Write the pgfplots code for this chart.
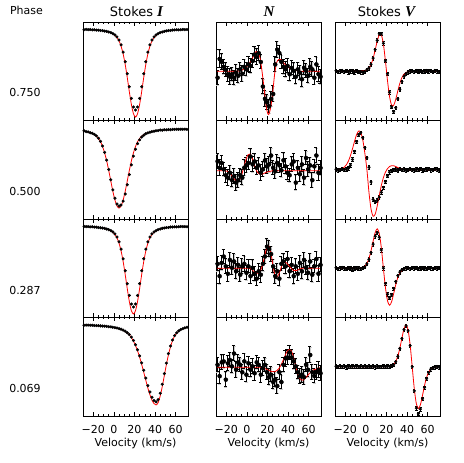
\documentclass[border=0pt]{standalone}
\usepackage{fontspec}
\setmainfont{DejaVu Sans}
\newfontfamily\titlefont{Liberation Serif}
\usepackage{pgfplots}
\usepackage{pgfplotstable}
\pgfplotsset{compat=1.18}

% ---------------- Stokes I ----------------
\pgfplotstableread{
v m d
-29 0.924 0.921
-27 0.923 0.925
-25 0.923 0.922
-23 0.922 0.923
-21 0.921 0.920
-19 0.920 0.921
-17 0.919 0.918
-15 0.917 0.917
-13 0.915 0.913
-11 0.912 0.912
-9 0.908 0.908
-7 0.903 0.905
-5 0.897 0.898
-3 0.889 0.892
-1 0.879 0.882
1 0.865 0.869
3 0.842 0.849
5 0.808 0.817
7 0.754 0.768
9 0.675 0.694
11 0.568 0.596
13 0.436 0.475
15 0.293 0.343
17 0.163 0.224
19 0.069 0.137
21 0.036 0.107
23 0.069 0.137
25 0.163 0.224
27 0.293 0.343
29 0.436 0.475
31 0.568 0.596
33 0.675 0.694
35 0.754 0.768
37 0.808 0.817
39 0.842 0.849
41 0.865 0.869
43 0.879 0.882
45 0.889 0.892
47 0.897 0.898
49 0.903 0.905
51 0.908 0.909
53 0.912 0.913
55 0.915 0.914
57 0.917 0.918
59 0.919 0.919
61 0.920 0.921
63 0.921 0.920
65 0.922 0.922
67 0.923 0.924
69 0.923 0.922
71 0.924 0.923
}\Ione

\pgfplotstableread{
v m d
-29 0.893 0.895
-27 0.889 0.887
-25 0.883 0.884
-23 0.877 0.876
-21 0.869 0.870
-19 0.857 0.859
-17 0.841 0.843
-15 0.818 0.820
-13 0.785 0.788
-11 0.736 0.741
-9 0.671 0.677
-7 0.590 0.598
-5 0.492 0.502
-3 0.386 0.399
-1 0.281 0.296
1 0.193 0.211
3 0.133 0.153
5 0.111 0.131
7 0.133 0.142
9 0.193 0.182
11 0.281 0.254
13 0.386 0.348
15 0.492 0.451
17 0.590 0.550
19 0.671 0.638
21 0.736 0.709
23 0.785 0.765
25 0.818 0.804
27 0.841 0.832
29 0.857 0.851
31 0.869 0.865
33 0.877 0.874
35 0.883 0.881
37 0.889 0.887
39 0.893 0.891
41 0.897 0.896
43 0.899 0.898
45 0.902 0.903
47 0.903 0.902
49 0.905 0.906
51 0.906 0.905
53 0.907 0.908
55 0.908 0.907
57 0.909 0.910
59 0.909 0.909
61 0.910 0.911
63 0.910 0.910
65 0.911 0.912
67 0.911 0.911
69 0.911 0.912
71 0.911 0.910
}\Itwo

\pgfplotstableread{
v m d
-29 0.923 0.925
-27 0.923 0.922
-25 0.922 0.923
-23 0.921 0.920
-21 0.920 0.921
-19 0.919 0.918
-17 0.917 0.917
-15 0.915 0.913
-13 0.912 0.912
-11 0.908 0.908
-9 0.903 0.905
-7 0.897 0.898
-5 0.889 0.892
-3 0.879 0.882
-1 0.865 0.869
1 0.842 0.849
3 0.808 0.817
5 0.754 0.768
7 0.675 0.694
9 0.568 0.596
11 0.436 0.475
13 0.293 0.343
15 0.163 0.224
17 0.069 0.137
19 0.036 0.107
21 0.069 0.137
23 0.163 0.224
25 0.293 0.343
27 0.436 0.475
29 0.568 0.596
31 0.675 0.694
33 0.754 0.768
35 0.808 0.817
37 0.842 0.849
39 0.865 0.869
41 0.879 0.882
43 0.889 0.892
45 0.897 0.898
47 0.903 0.905
49 0.908 0.909
51 0.912 0.913
53 0.915 0.914
55 0.917 0.918
57 0.919 0.919
59 0.920 0.921
61 0.921 0.920
63 0.922 0.922
65 0.923 0.924
67 0.923 0.922
69 0.924 0.923
71 0.924 0.921
}\Ithree

\pgfplotstableread{
v m d
-29 0.924 0.922
-27 0.923 0.923
-25 0.923 0.923
-23 0.922 0.922
-21 0.921 0.921
-19 0.919 0.919
-17 0.918 0.918
-15 0.917 0.917
-13 0.915 0.915
-11 0.913 0.913
-9 0.911 0.912
-7 0.909 0.910
-5 0.906 0.907
-3 0.904 0.905
-1 0.900 0.901
1 0.896 0.897
3 0.892 0.893
5 0.885 0.887
7 0.879 0.881
9 0.870 0.872
11 0.858 0.861
13 0.843 0.846
15 0.823 0.827
17 0.796 0.801
19 0.761 0.767
21 0.716 0.724
23 0.662 0.672
25 0.598 0.611
27 0.524 0.540
29 0.445 0.464
31 0.363 0.385
33 0.284 0.309
35 0.216 0.244
37 0.161 0.191
39 0.126 0.157
41 0.112 0.144
43 0.136 0.167
45 0.203 0.231
47 0.298 0.322
49 0.410 0.430
51 0.521 0.537
53 0.621 0.633
55 0.702 0.711
57 0.766 0.772
59 0.813 0.817
61 0.841 0.844
63 0.862 0.864
65 0.876 0.878
67 0.886 0.887
69 0.894 0.895
71 0.900 0.901
}\Ifour

% ---------------- N ----------------
\pgfplotstableread{
v m d e
-29 0.00 -0.12 0.15
-27 0.00 0.26 0.18
-25 0.00 0.20 0.16
-23 0.00 0.10 0.15
-21 0.00 0.04 0.14
-19 0.00 -0.05 0.15
-17 0.00 -0.10 0.16
-15 0.00 -0.05 0.14
-13 0.00 -0.12 0.15
-11 0.00 -0.02 0.16
-9 0.00 -0.08 0.15
-7 0.01 0.05 0.14
-5 0.02 -0.04 0.16
-3 0.04 0.10 0.15
-1 0.07 0.05 0.14
1 0.12 0.15 0.16
3 0.18 0.12 0.15
5 0.24 0.22 0.14
7 0.34 0.35 0.15
9 0.40 0.30 0.16
11 0.38 0.38 0.15
13 0.25 0.20 0.14
15 -0.05 -0.30 0.15
17 -0.40 -0.55 0.16
19 -0.75 -0.62 0.15
21 -0.88 -0.70 0.14
23 -0.75 -0.55 0.15
25 -0.45 -0.45 0.16
27 -0.05 0.15 0.15
29 0.18 0.45 0.16
31 0.24 0.38 0.15
33 0.24 0.20 0.14
35 0.19 0.10 0.15
37 0.14 0.05 0.16
39 0.10 0.12 0.15
41 0.07 -0.05 0.14
43 0.05 0.08 0.15
45 0.03 0.02 0.16
47 0.02 -0.10 0.15
49 0.01 0.05 0.14
51 0.00 -0.02 0.15
53 0.00 -0.15 0.16
55 0.00 0.08 0.15
57 0.00 0.02 0.14
59 0.00 -0.08 0.15
61 0.00 0.10 0.16
63 0.00 0.05 0.15
65 0.00 -0.12 0.14
67 0.00 0.15 0.15
69 0.00 -0.05 0.16
71 0.00 -0.10 0.15
}\None

\pgfplotstableread{
v m d e
-29 -0.02 0.18 0.15
-27 -0.02 0.05 0.16
-25 -0.02 0.15 0.15
-23 -0.02 0.02 0.14
-21 -0.02 -0.10 0.15
-19 -0.03 -0.15 0.16
-17 -0.06 -0.05 0.15
-15 -0.11 -0.20 0.14
-13 -0.17 -0.12 0.15
-11 -0.22 -0.25 0.16
-9 -0.24 -0.20 0.15
-7 -0.20 -0.10 0.14
-5 -0.10 -0.15 0.15
-3 0.05 0.05 0.16
-1 0.20 0.10 0.15
1 0.30 0.15 0.14
3 0.32 0.28 0.15
5 0.25 0.12 0.16
7 0.12 0.18 0.15
9 0.00 0.05 0.14
11 -0.07 0.10 0.15
13 -0.09 -0.05 0.16
15 -0.09 0.02 0.15
17 -0.07 0.20 0.14
19 -0.05 0.08 0.15
21 -0.04 0.12 0.16
23 -0.03 0.30 0.15
25 -0.02 0.05 0.14
27 -0.02 -0.02 0.15
29 -0.02 0.15 0.16
31 -0.02 0.10 0.15
33 -0.02 0.00 0.14
35 -0.02 0.20 0.15
37 -0.02 0.08 0.16
39 -0.02 -0.05 0.15
41 -0.02 -0.10 0.14
43 -0.02 0.12 0.15
45 -0.02 0.18 0.16
47 -0.02 -0.25 0.15
49 -0.02 0.05 0.14
51 -0.02 -0.08 0.15
53 -0.02 0.12 0.16
55 -0.02 -0.15 0.15
57 -0.02 0.25 0.14
59 -0.02 0.02 0.15
61 -0.02 0.10 0.16
63 -0.02 -0.20 0.15
65 -0.02 0.08 0.14
67 -0.02 0.30 0.15
69 -0.02 -0.05 0.16
71 -0.02 0.05 0.15
}\Ntwo

\pgfplotstableread{
v m d e
-29 0.00 0.10 0.15
-27 0.00 -0.15 0.16
-25 0.00 0.12 0.15
-23 0.00 0.25 0.14
-21 0.00 0.05 0.15
-19 0.00 -0.10 0.16
-17 0.00 0.18 0.15
-15 0.00 0.02 0.14
-13 0.00 0.15 0.15
-11 0.00 -0.05 0.16
-9 0.00 0.08 0.15
-7 0.00 -0.12 0.14
-5 0.00 0.05 0.15
-3 0.00 0.10 0.16
-1 0.00 -0.08 0.15
1 0.00 0.05 0.14
3 0.00 -0.15 0.15
5 -0.03 0.02 0.16
7 -0.07 -0.10 0.15
9 -0.10 -0.20 0.14
11 -0.10 -0.05 0.15
13 -0.06 -0.12 0.16
15 0.05 0.10 0.15
17 0.22 0.25 0.14
19 0.40 0.45 0.15
21 0.46 0.40 0.16
23 0.35 0.30 0.15
25 0.10 0.05 0.14
27 -0.12 -0.15 0.15
29 -0.18 -0.05 0.16
31 -0.12 -0.20 0.15
33 0.00 0.10 0.14
35 0.10 0.15 0.15
37 0.13 0.05 0.16
39 0.10 0.20 0.15
41 0.05 -0.05 0.14
43 0.00 0.08 0.15
45 -0.04 -0.15 0.16
47 -0.05 0.05 0.15
49 -0.04 -0.10 0.14
51 -0.02 0.12 0.15
53 0.00 -0.05 0.16
55 0.00 0.18 0.15
57 0.00 0.02 0.14
59 0.00 -0.08 0.15
61 0.00 0.15 0.16
63 0.00 -0.12 0.15
65 0.00 0.05 0.14
67 0.00 0.20 0.15
69 0.00 -0.10 0.16
71 0.00 0.08 0.15
}\Nthree

\pgfplotstableread{
v m d e
-29 -0.01 0.05 0.15
-27 -0.01 -0.18 0.16
-25 -0.01 0.10 0.15
-23 -0.01 0.12 0.14
-21 -0.01 -0.25 0.15
-19 -0.01 0.08 0.16
-17 -0.01 0.15 0.15
-15 -0.01 0.02 0.14
-13 -0.01 0.28 0.15
-11 -0.01 -0.05 0.16
-9 -0.01 0.10 0.15
-7 -0.01 0.05 0.14
-5 -0.01 -0.10 0.15
-3 -0.01 0.12 0.16
-1 -0.01 -0.15 0.15
1 -0.01 0.08 0.14
3 -0.01 -0.05 0.15
5 -0.01 0.02 0.16
7 -0.01 -0.12 0.15
9 -0.01 0.10 0.14
11 -0.01 0.05 0.15
13 -0.01 -0.15 0.16
15 -0.02 -0.02 0.15
17 -0.03 0.05 0.14
19 -0.05 -0.10 0.15
21 -0.07 -0.20 0.16
23 -0.09 -0.15 0.15
25 -0.10 -0.30 0.14
27 -0.10 -0.25 0.15
29 -0.08 -0.38 0.16
31 -0.04 -0.10 0.15
33 0.03 -0.30 0.14
35 0.12 0.05 0.15
37 0.22 0.18 0.16
39 0.31 0.20 0.15
41 0.35 0.30 0.14
43 0.33 0.20 0.15
45 0.22 0.12 0.16
47 0.05 0.02 0.15
49 -0.12 -0.10 0.14
51 -0.23 -0.18 0.15
53 -0.27 -0.15 0.16
55 -0.27 -0.20 0.15
57 -0.23 0.05 0.14
59 -0.18 -0.05 0.15
61 -0.13 0.25 0.16
63 -0.09 -0.10 0.15
65 -0.06 -0.18 0.14
67 -0.05 -0.10 0.15
69 -0.03 -0.05 0.16
71 -0.02 -0.12 0.15
}\Nfour

% ---------------- Stokes V ----------------
\pgfplotstableread{
v m d
-29 0.000 0.010
-27 0.000 -0.010
-25 0.000 0.000
-23 0.000 0.015
-21 0.000 -0.005
-19 0.000 0.010
-17 0.000 -0.015
-15 0.000 0.005
-13 0.000 0.000
-11 0.000 -0.020
-9 0.000 0.010
-7 0.000 -0.010
-5 0.001 -0.015
-3 0.003 -0.020
-1 0.010 -0.005
1 0.026 0.030
3 0.064 0.066
5 0.138 0.141
7 0.260 0.267
9 0.428 0.439
11 0.610 0.626
13 0.740 0.760
15 0.738 0.757
17 0.553 0.568
19 0.206 0.211
21 -0.192 -0.050
23 -0.517 -0.426
25 -0.689 -0.722
27 -0.692 -0.820
29 -0.570 -0.741
31 -0.400 -0.562
33 -0.243 -0.366
35 -0.129 -0.207
37 -0.060 -0.103
39 -0.025 -0.045
41 -0.009 -0.017
43 -0.003 0.005
45 0.000 0.010
47 0.000 -0.005
49 0.000 0.015
51 0.000 0.000
53 0.000 0.010
55 0.000 -0.010
57 0.000 0.005
59 0.000 0.015
61 0.000 0.000
63 0.000 0.010
65 0.000 -0.010
67 0.000 0.015
69 0.000 0.005
71 0.000 -0.010
}\Vone

\pgfplotstableread{
v m d
-29 0.000 0.010
-27 0.005 -0.010
-25 0.011 0.000
-23 0.025 0.020
-21 0.052 0.000
-19 0.100 0.010
-17 0.175 0.030
-15 0.285 0.090
-13 0.426 0.210
-11 0.579 0.370
-9 0.714 0.570
-7 0.787 0.710
-5 0.757 0.750
-3 0.603 0.650
-1 0.335 0.450
1 0.000 0.240
3 -0.460 0.050
5 -0.798 -0.250
7 -0.944 -0.600
9 -0.903 -0.650
11 -0.738 -0.620
13 -0.526 -0.560
15 -0.320 -0.460
17 -0.161 -0.360
19 -0.050 -0.240
21 0.023 -0.120
23 0.066 -0.050
25 0.083 -0.020
27 0.081 0.000
29 0.065 0.010
31 0.044 -0.010
33 0.025 0.020
35 0.012 0.000
37 0.005 0.010
39 0.000 -0.010
41 0.000 0.000
43 0.000 0.020
45 0.000 0.000
47 0.000 -0.010
49 0.000 0.010
51 0.000 0.000
53 0.000 0.020
55 0.000 -0.010
57 0.000 0.000
59 0.000 0.010
61 0.000 0.020
63 0.000 -0.010
65 0.000 0.000
67 0.000 0.020
69 0.000 0.010
71 0.000 -0.010
}\Vtwo

\pgfplotstableread{
v m d
-29 0.000 0.010
-27 0.000 -0.010
-25 0.000 0.005
-23 0.000 0.015
-21 0.000 0.000
-19 0.000 -0.010
-17 0.000 0.010
-15 0.000 0.000
-13 0.000 -0.015
-11 0.000 0.005
-9 0.000 0.010
-7 0.002 0.000
-5 0.006 -0.010
-3 0.017 0.010
-1 0.044 0.030
1 0.101 0.090
3 0.202 0.180
5 0.357 0.320
7 0.548 0.490
9 0.723 0.650
11 0.800 0.720
13 0.704 0.630
15 0.416 0.370
17 0.000 0.000
19 -0.390 -0.310
21 -0.660 -0.530
23 -0.750 -0.600
25 -0.678 -0.540
27 -0.514 -0.410
29 -0.335 -0.270
31 -0.190 -0.150
33 -0.095 -0.080
35 -0.041 -0.030
37 -0.016 -0.010
39 -0.005 0.005
41 -0.002 0.010
43 0.000 -0.005
45 0.000 0.010
47 0.000 0.000
49 0.000 0.015
51 0.000 -0.010
53 0.000 0.005
55 0.000 0.010
57 0.000 0.000
59 0.000 -0.010
61 0.000 0.010
63 0.000 0.005
65 0.000 -0.005
67 0.000 0.010
69 0.000 0.000
71 0.000 0.010
}\Vthree

\pgfplotstableread{
v m d
-29 0.000 0.010
-27 0.000 0.000
-25 0.000 0.015
-23 0.000 0.005
-21 0.000 0.010
-19 0.000 -0.005
-17 0.000 0.010
-15 0.000 0.000
-13 0.000 0.015
-11 0.000 0.005
-9 0.000 0.010
-7 0.000 0.000
-5 0.000 0.010
-3 0.000 0.005
-1 0.000 0.015
1 0.000 0.000
3 0.000 0.010
5 0.000 0.005
7 0.000 0.010
9 0.000 -0.005
11 0.000 0.010
13 0.000 0.000
15 0.000 0.005
17 0.000 0.010
19 0.000 0.000
21 0.002 0.010
23 0.006 0.005
25 0.018 0.020
27 0.047 0.040
29 0.107 0.100
31 0.215 0.210
33 0.379 0.370
35 0.582 0.570
37 0.768 0.750
39 0.850 0.830
41 0.748 0.730
43 0.442 0.430
45 0.000 0.000
47 -0.442 -0.490
49 -0.748 -0.840
51 -0.850 -0.950
53 -0.768 -0.860
55 -0.582 -0.650
57 -0.379 -0.420
59 -0.215 -0.240
61 -0.107 -0.120
63 -0.047 -0.050
65 -0.018 -0.020
67 -0.006 -0.005
69 -0.002 0.005
71 0.000 -0.005
}\Vfour

\pgfplotsset{
  panel/.style={
    scale only axis, width=105pt, height=98.5pt, anchor=north west,
    xmin=-30, xmax=72, xtick={-20,0,20,40,60}, minor x tick num=3,
    ytick=\empty, xticklabels={},
    axis line style={line width=0.6pt, black},
    every tick/.style={black, line width=0.5pt},
    major tick length=4pt, minor tick length=2pt,
  },
  ip/.style={panel, ymin=0, ymax=1},
  vp/.style={panel, ymin=-1, ymax=1},
  bottomrow/.style={
    xticklabels={−20,0,20,40,60},
    xticklabel style={font=\fontsize{11}{13}\selectfont, anchor=center, yshift=-13pt},
    xlabel={Velocity (km/s)},
    xlabel style={font=\fontsize{11}{13}\selectfont, at={(axis description cs:0.5,0)}, anchor=center, yshift=-27pt},
  },
  model/.style={red, line width=0.8pt, smooth, no marks},
  dots/.style={only marks, mark=*, mark size=1.35pt, black},
  halo/.style={only marks, mark=none, xshift=0.6pt, yshift=-0.6pt,
    error bars/.cd, y dir=both, y explicit,
    error bar style={gray!40, line width=0.9pt},
    error mark options={rotate=90, mark size=1.6pt, gray!40, line width=0.9pt}},
  nbars/.style={dots, error bars/.cd, y dir=both, y explicit,
    error bar style={black, line width=0.5pt},
    error mark options={rotate=90, mark size=1.6pt, black, line width=0.5pt}},
  vbars/.style={dots, error bars/.cd, y dir=both, y fixed=0.035,
    error bar style={black, line width=0.5pt},
    error mark options={rotate=90, mark size=1.2pt, black}},
}

\begin{document}
\begin{tikzpicture}
\useasboundingbox (0,0) rectangle (463pt,463pt);

% titles and phases
\node[font=\fontsize{11}{13}\selectfont] at (26.5pt,453pt) {Phase};
\node[font=\fontsize{13}{15}\selectfont] at (136.5pt,451pt) {Stokes {\fontsize{15}{17}\selectfont\titlefont\bfseries\itshape I}};
\node[font=\fontsize{15}{17}\selectfont] at (269pt,451pt) {{\titlefont\bfseries\itshape N}};
\node[font=\fontsize{13}{15}\selectfont] at (386.5pt,451pt) {Stokes {\fontsize{15}{17}\selectfont\titlefont\bfseries\itshape V}};
\node[font=\fontsize{11}{13}\selectfont] at (25pt,370pt) {0.750};
\node[font=\fontsize{11}{13}\selectfont] at (25pt,271.5pt) {0.500};
\node[font=\fontsize{11}{13}\selectfont] at (25pt,173pt) {0.287};
\node[font=\fontsize{11}{13}\selectfont] at (25pt,74.5pt) {0.069};

% ---- Row 1 ----
\begin{axis}[ip, at={(83pt,441pt)}]
  \addplot[dots] table[x=v, y=d] {\Ione};
  \addplot[model] table[x=v, y=m] {\Ione};
\end{axis}
\begin{axis}[vp, at={(216pt,441pt)}]
  \addplot[halo] table[x=v, y=d, y error=e] {\None};
  \addplot[nbars] table[x=v, y=d, y error=e] {\None};
  \addplot[model] table[x=v, y=m] {\None};
\end{axis}
\begin{axis}[vp, at={(335pt,441pt)}]
  \addplot[vbars] table[x=v, y=d] {\Vone};
  \addplot[model] table[x=v, y=m] {\Vone};
\end{axis}

% ---- Row 2 ----
\begin{axis}[ip, at={(83pt,342.5pt)}]
  \addplot[dots] table[x=v, y=d] {\Itwo};
  \addplot[model] table[x=v, y=m] {\Itwo};
\end{axis}
\begin{axis}[vp, at={(216pt,342.5pt)}]
  \addplot[halo] table[x=v, y=d, y error=e] {\Ntwo};
  \addplot[nbars] table[x=v, y=d, y error=e] {\Ntwo};
  \addplot[model] table[x=v, y=m] {\Ntwo};
\end{axis}
\begin{axis}[vp, at={(335pt,342.5pt)}]
  \addplot[vbars] table[x=v, y=d] {\Vtwo};
  \addplot[model] table[x=v, y=m] {\Vtwo};
\end{axis}

% ---- Row 3 ----
\begin{axis}[ip, at={(83pt,244pt)}]
  \addplot[dots] table[x=v, y=d] {\Ithree};
  \addplot[model] table[x=v, y=m] {\Ithree};
\end{axis}
\begin{axis}[vp, at={(216pt,244pt)}]
  \addplot[halo] table[x=v, y=d, y error=e] {\Nthree};
  \addplot[nbars] table[x=v, y=d, y error=e] {\Nthree};
  \addplot[model] table[x=v, y=m] {\Nthree};
\end{axis}
\begin{axis}[vp, at={(335pt,244pt)}]
  \addplot[vbars] table[x=v, y=d] {\Vthree};
  \addplot[model] table[x=v, y=m] {\Vthree};
\end{axis}

% ---- Row 4 ----
\begin{axis}[ip, bottomrow, at={(83pt,145.5pt)}]
  \addplot[dots] table[x=v, y=d] {\Ifour};
  \addplot[model] table[x=v, y=m] {\Ifour};
\end{axis}
\begin{axis}[vp, bottomrow, at={(216pt,145.5pt)}]
  \addplot[halo] table[x=v, y=d, y error=e] {\Nfour};
  \addplot[nbars] table[x=v, y=d, y error=e] {\Nfour};
  \addplot[model] table[x=v, y=m] {\Nfour};
\end{axis}
\begin{axis}[vp, bottomrow, at={(335pt,145.5pt)}]
  \addplot[vbars] table[x=v, y=d] {\Vfour};
  \addplot[model] table[x=v, y=m] {\Vfour};
\end{axis}
\end{tikzpicture}
\end{document}
